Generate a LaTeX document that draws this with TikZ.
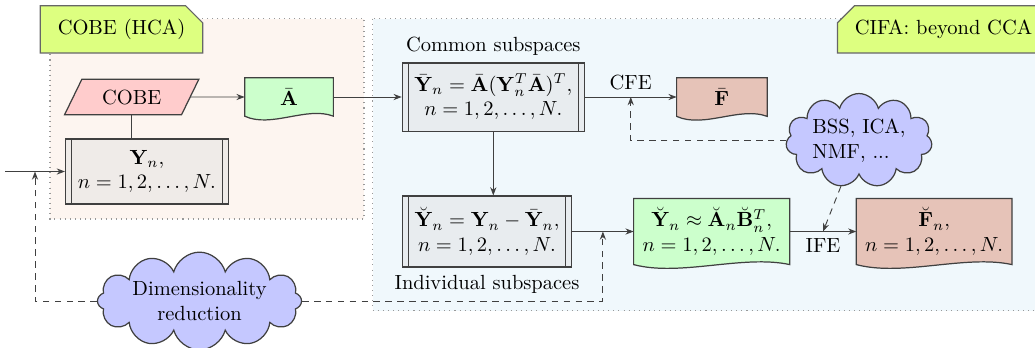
\documentclass[tikz,border=0pt]{standalone}
\usetikzlibrary{shapes.geometric,shapes.misc,shapes.symbols,arrows.meta,calc,backgrounds}
\definecolor{tagc}{HTML}{DDFF80}
\definecolor{cobebg}{HTML}{FDF5F0}
\definecolor{cifabg}{HTML}{F0F8FC}
\definecolor{pinkc}{HTML}{FFCCCC}
\definecolor{greenc}{HTML}{CCFFCC}
\definecolor{fcol}{HTML}{E6C3B8}
\definecolor{procA}{HTML}{EFEBE8}
\definecolor{procB}{HTML}{E8ECEF}
\definecolor{cloudc}{HTML}{C5C8FF}
\newcommand{\docpath}[2]{%
  \path[draw=black!75,line width=0.6pt,fill=#2]
    (#1.north west) -- (#1.north east) -- (#1.south east)
    .. controls ($(#1.south east)!0.3!(#1.south west)+(0pt,5pt)$)
    and ($(#1.south west)!0.3!(#1.south east)+(0pt,-6pt)$) .. (#1.south west) -- cycle;}
\begin{document}
\begin{tikzpicture}[x=0.488pt,y=-0.488pt,
  box/.style={draw=black!75, line width=0.6pt, align=center, inner sep=2pt},
  proc/.style={box, fill=#1,
    path picture={
      \draw[black!75,line width=0.6pt] ([xshift=2.9pt]path picture bounding box.north west) -- ([xshift=2.9pt]path picture bounding box.south west);
      \draw[black!75,line width=0.6pt] ([xshift=-2.9pt]path picture bounding box.north east) -- ([xshift=-2.9pt]path picture bounding box.south east);}},
  docnode/.style={align=center, inner sep=2pt},
  tagbox/.style={chamfered rectangle, chamfered rectangle xsep=5.5pt, draw=black!60, line width=0.6pt, fill=tagc, minimum height=23.1pt, inner sep=3pt},
  framebox/.style={draw=black!40, dotted, line width=0.5pt},
  arr/.style={-{Stealth[length=4pt,width=3pt]}, line width=0.45pt, draw=black!75},
  dasharr/.style={arr, dash pattern=on 3.2pt off 2.6pt},
  plain/.style={line width=0.45pt, draw=black!75},
  cloudy/.style={cloud, cloud ignores aspect, draw=black!75, fill=cloudc, line width=0.6pt, inner sep=1pt},
]
\useasboundingbox (0,0) rectangle (1035,347);
% frames
\begin{scope}[on background layer]
\draw[framebox, fill=cobebg] (50,18.5) rectangle (364,219);
\draw[framebox, fill=cifabg] (372.5,18.5) rectangle (1045,310.5);
\end{scope}
% tags
\node[tagbox, chamfered rectangle corners=north east, minimum width=75.6pt] (tagcobe) at (121.5,29.3) {COBE (HCA)};
\node[tagbox, chamfered rectangle corners=north west, minimum width=100pt] (tagcifa) at (943.5,29.3) {CIFA: beyond CCA};
% row 1
\node[box, trapezium, trapezium left angle=63, trapezium right angle=117, trapezium stretches=true,
      minimum width=65.7pt, minimum height=17.4pt, fill=pinkc] (cobe) at (131.7,97) {COBE};
\node[docnode, minimum width=42.9pt, minimum height=18.3pt] (abar) at (289,97) {$\bar{\mathbf{A}}$};
\node[proc=procB, minimum width=88.8pt, minimum height=33.3pt,
      label={[label distance=0pt]above:Common subspaces}] (ybar) at (493.3,97)
  {$\bar{\mathbf{Y}}_n = \bar{\mathbf{A}}(\mathbf{Y}_n^T\bar{\mathbf{A}})^T,$\\ $n=1,2,\ldots,N.$};
\node[docnode, minimum width=43.8pt, minimum height=18.5pt] (fbar) at (721.9,97) {$\bar{\mathbf{F}}$};
\node[cloudy, cloud puffs=11, minimum width=71.3pt, minimum height=43.4pt, align=left] (bss) at (859,140.5) {BSS, ICA,\\NMF, ...};
% input
\node[proc=procA, minimum width=79.5pt, minimum height=31.7pt] (yn) at (147,171.5) {$\mathbf{Y}_n,$\\ $n=1,2,\ldots,N.$};
\coordinate (in) at (5,171.5);
\coordinate (inpt) at (35,171.5);
% row 2
\node[proc=procB, minimum width=82.5pt, minimum height=34.6pt,
      label={[label distance=0pt]below:Individual subspaces}] (ybreve) at (487,231.5)
  {$\breve{\mathbf{Y}}_n = \mathbf{Y}_n - \bar{\mathbf{Y}}_n,$\\ $n=1,2,\ldots,N.$};
\node[docnode, minimum width=75.8pt, minimum height=31.9pt] (green) at (711.7,231.5)
  {$\breve{\mathbf{Y}}_n \approx \breve{\mathbf{A}}_n\breve{\mathbf{B}}_n^T,$\\ $n=1,2,\ldots,N.$};
\node[docnode, minimum width=75.6pt, minimum height=31.9pt] (fbreve) at (934.2,231.5)
  {$\breve{\mathbf{F}}_n,$\\ $n=1,2,\ldots,N.$};
\node[cloudy, cloud puffs=12, minimum width=99.6pt, minimum height=44.4pt, align=center] (dim) at (199.5,301) {Dimensionality\\reduction};
% document shapes
\begin{scope}[on background layer]
\docpath{abar}{greenc}
\docpath{fbar}{fcol}
\docpath{green}{greenc}
\docpath{fbreve}{fcol}
\end{scope}
% connectors
\draw[arr] (in) -- (yn.west);
\draw[plain] (cobe.south) -- (cobe.south |- yn.north);
\draw[arr] (cobe.east) -- (abar.west);
\draw[arr] (abar.east) -- (ybar.west);
\draw[arr] (ybar.east) -- node[above]{CFE} coordinate[pos=0.5] (cfept) (fbar.west);
\draw[arr] (ybar.south) -- (ybar.south |- ybreve.north);
\draw[arr] (ybreve.east) -- coordinate[pos=0.5] (irpt) (green.west);
\draw[arr] (green.east) -- node[below]{IFE} coordinate[pos=0.5] (ifept) (fbreve.west);
\draw[dasharr] (bss.west) -| (cfept);
\draw[dasharr] (bss) -- (ifept);
\draw[dasharr] (dim.west) -| (inpt);
\draw[dasharr] (dim.east) -| (irpt);
\end{tikzpicture}
\end{document}
